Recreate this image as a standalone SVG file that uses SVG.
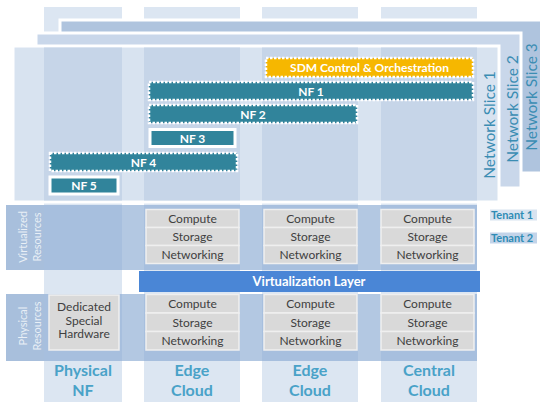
<svg xmlns="http://www.w3.org/2000/svg" width="540" height="402" viewBox="0 0 540 402">
<defs>
<style>
text{font-family:Lato,"Liberation Sans",sans-serif}
.col{fill:#dce6f2}
.colin{fill:#c6d5e8}
.slice{stroke:#fff;stroke-width:3}
.band{fill:#8aaad3;fill-opacity:0.65}
.lbl{fill:#a8bfdc}
.side{fill:#fff;fill-opacity:0.75;font-size:11px;text-anchor:middle}
.res{fill:#d9d9d9;stroke:#efefef;stroke-width:1.5}
.rt{fill:#404040;font-size:12px;text-anchor:middle}
.nf{fill:#31849b;stroke:#fff;stroke-width:2}
.dash{stroke-width:2.5;stroke-dasharray:2.5 1.5}
.solid{stroke-width:3}
.nft{fill:#fff;font-size:12px;font-weight:bold;text-anchor:middle}
.slt{fill:#3b8db3;font-size:15.5px;text-anchor:middle}
.bot{fill:#49a2c8;font-size:16px;font-weight:bold;text-anchor:middle}
.ten{fill:#2f8cb5;font-size:11px;font-weight:bold}
</style>
</defs>
<rect width="540" height="402" fill="#fff"/>
<g id="columns">
<rect class="col" x="44" y="7" width="78" height="395"/>
<rect class="col" x="144" y="7" width="96" height="395"/>
<rect class="col" x="262" y="7" width="96" height="395"/>
<rect class="col" x="381" y="7" width="96" height="395"/>
</g>
<g id="slice3">
<rect class="slice" x="60" y="20" width="490" height="153" fill="#afc4de"/>
<text class="slt" transform="translate(536.5,97) rotate(-90)">Network Slice 3</text>
</g>
<g id="slice2">
<rect class="slice" x="36" y="33" width="485" height="155" fill="#c9d7ea"/>
<text class="slt" transform="translate(518,109) rotate(-90)">Network Slice 2</text>
</g>
<g id="slice1">
<rect class="slice" x="13" y="46" width="486" height="156" fill="#d8e3f0"/>
<rect class="colin" x="44" y="47.5" width="78" height="153"/>
<rect class="colin" x="144" y="47.5" width="96" height="153"/>
<rect class="colin" x="262" y="47.5" width="96" height="153"/>
<rect class="colin" x="381" y="47.5" width="96" height="153"/>
<text class="slt" transform="translate(495,125) rotate(-90)">Network Slice 1</text>
</g>
<g id="sdm">
<rect class="nf dash" x="266" y="58" width="207" height="19" style="fill:#f6b700"/>
<text class="nft" x="369.5" y="71.5">SDM Control &amp; Orchestration</text>
</g>
<g id="nf1">
<rect class="nf dash" x="149" y="82" width="324" height="18"/>
<text class="nft" x="311" y="95.5">NF 1</text>
</g>
<g id="nf2">
<rect class="nf dash" x="149" y="105" width="208" height="18"/>
<text class="nft" x="253" y="118.5">NF 2</text>
</g>
<g id="nf3">
<rect class="nf solid" x="150" y="129.5" width="85" height="17"/>
<text class="nft" x="192.5" y="142.5">NF 3</text>
</g>
<g id="nf4">
<rect class="nf dash" x="50" y="153" width="187" height="18"/>
<text class="nft" x="143.5" y="166.5">NF 4</text>
</g>
<g id="nf5">
<rect class="nf solid" x="50" y="177" width="68" height="17"/>
<text class="nft" x="84" y="190">NF 5</text>
</g>
<g id="virtualized-resources">
<rect class="band" x="44" y="205" width="433" height="65"/>
<rect class="lbl" x="6" y="205" width="38" height="65"/>
<text class="side" transform="translate(27,237) rotate(-90)">Virtualized</text>
<text class="side" transform="translate(40.5,237) rotate(-90)">Resources</text>
</g>
<g id="physical-resources">
<rect class="band" x="44" y="294" width="433" height="67"/>
<rect class="lbl" x="6" y="294" width="38" height="67"/>
<text class="side" transform="translate(27,326) rotate(-90)">Physical</text>
<text class="side" transform="translate(40.5,326) rotate(-90)">Resources</text>
</g>
<g id="virtualization-layer">
<rect x="139" y="271" width="341" height="21" fill="#4a86d6"/>
<text x="309" y="286" fill="#fff" font-size="13" font-weight="bold" text-anchor="middle">Virtualization Layer</text>
</g>
<g id="edge-virtual">
<rect class="res" x="146" y="209.5" width="93" height="18"/><text class="rt" x="192.5" y="222.5">Compute</text>
<rect class="res" x="146" y="227.5" width="93" height="18"/><text class="rt" x="192.5" y="240.5">Storage</text>
<rect class="res" x="146" y="245.5" width="93" height="18"/><text class="rt" x="192.5" y="258.5">Networking</text>
</g>
<g id="edge2-virtual">
<rect class="res" x="264" y="209.5" width="93" height="18"/><text class="rt" x="310.5" y="222.5">Compute</text>
<rect class="res" x="264" y="227.5" width="93" height="18"/><text class="rt" x="310.5" y="240.5">Storage</text>
<rect class="res" x="264" y="245.5" width="93" height="18"/><text class="rt" x="310.5" y="258.5">Networking</text>
</g>
<g id="central-virtual">
<rect class="res" x="381" y="209.5" width="93" height="18"/><text class="rt" x="427.5" y="222.5">Compute</text>
<rect class="res" x="381" y="227.5" width="93" height="18"/><text class="rt" x="427.5" y="240.5">Storage</text>
<rect class="res" x="381" y="245.5" width="93" height="18"/><text class="rt" x="427.5" y="258.5">Networking</text>
</g>
<g id="dedicated-hw">
<rect class="res" x="49" y="295" width="70" height="55"/>
<text class="rt" x="84" y="311">Dedicated</text>
<text class="rt" x="84" y="324.5">Special</text>
<text class="rt" x="84" y="338">Hardware</text>
</g>
<g id="edge-physical">
<rect class="res" x="146" y="294.5" width="93" height="18.5"/><text class="rt" x="192.5" y="307.5">Compute</text>
<rect class="res" x="146" y="313" width="93" height="18.5"/><text class="rt" x="192.5" y="326.5">Storage</text>
<rect class="res" x="146" y="331.5" width="93" height="18.5"/><text class="rt" x="192.5" y="345">Networking</text>
</g>
<g id="edge2-physical">
<rect class="res" x="264" y="294.5" width="93" height="18.5"/><text class="rt" x="310.5" y="307.5">Compute</text>
<rect class="res" x="264" y="313" width="93" height="18.5"/><text class="rt" x="310.5" y="326.5">Storage</text>
<rect class="res" x="264" y="331.5" width="93" height="18.5"/><text class="rt" x="310.5" y="345">Networking</text>
</g>
<g id="central-physical">
<rect class="res" x="381" y="294.5" width="93" height="18.5"/><text class="rt" x="427.5" y="307.5">Compute</text>
<rect class="res" x="381" y="313" width="93" height="18.5"/><text class="rt" x="427.5" y="326.5">Storage</text>
<rect class="res" x="381" y="331.5" width="93" height="18.5"/><text class="rt" x="427.5" y="345">Networking</text>
</g>
<g id="column-labels">
<text class="bot" x="83" y="376">Physical</text><text class="bot" x="83" y="396">NF</text>
<text class="bot" x="192" y="376">Edge</text><text class="bot" x="192" y="396">Cloud</text>
<text class="bot" x="310" y="376">Edge</text><text class="bot" x="310" y="396">Cloud</text>
<text class="bot" x="429" y="376">Central</text><text class="bot" x="429" y="396">Cloud</text>
</g>
<g id="tenant1">
<rect x="490" y="209.5" width="47" height="11" fill="#d8e3f0"/>
<text class="ten" x="491" y="219">Tenant 1</text>
</g>
<g id="tenant2">
<rect x="490" y="232.5" width="47" height="11" fill="#c3d4e9"/>
<text class="ten" x="491" y="242">Tenant 2</text>
</g>
</svg>
